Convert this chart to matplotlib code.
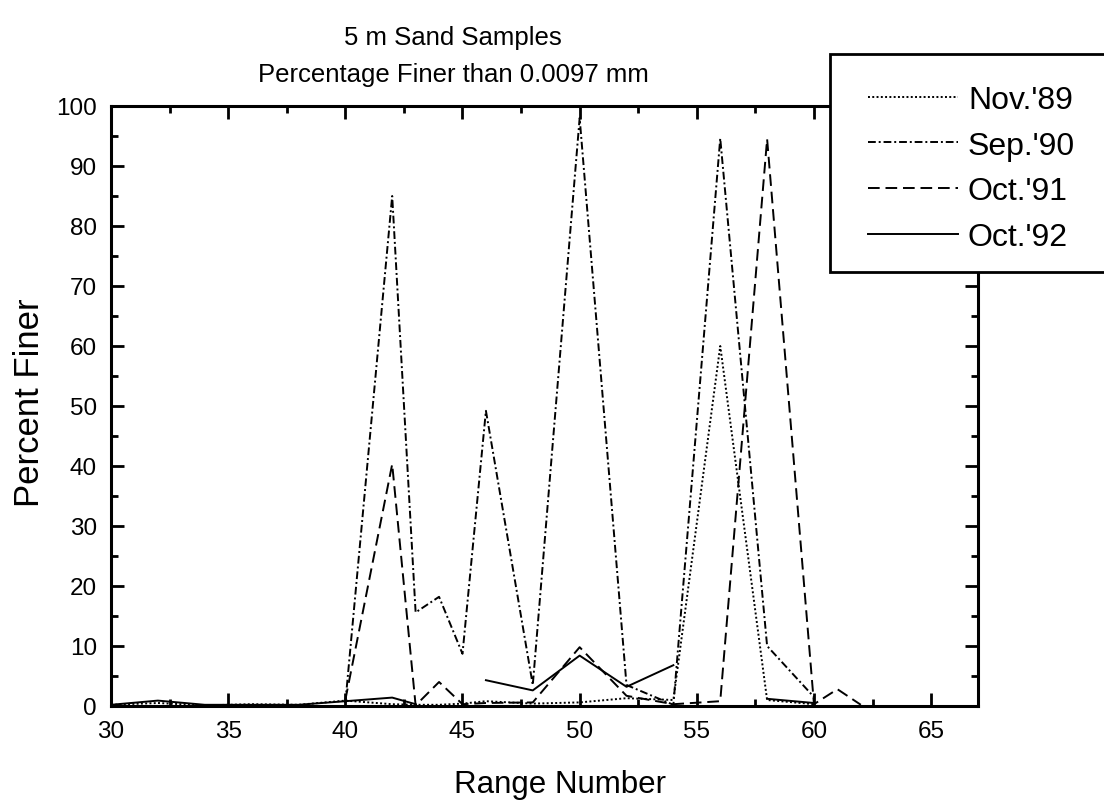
import matplotlib
matplotlib.use('Agg')
import matplotlib.pyplot as plt
from matplotlib.patches import Rectangle
from matplotlib.ticker import MultipleLocator
import numpy as np

plt.rcParams['font.family'] = ['Liberation Sans', 'DejaVu Sans']

nan = np.nan
# range numbers sampled
ranges = [30, 32, 34, 36, 38, 40, 42, 43, 44, 45, 46, 48, 50, 52, 54, 56, 58, 60, 61, 62]

nov89 = [0.2, 0.5, 0.1, 0.3, 0.2, 0.9, 0.3, 0.2, 0.2, 0.4, 0.8, 0.4, 0.6, 1.3, 1.0, 60.0, 1.0, 0.3, nan, nan]
sep90 = [nan, nan, nan, nan, nan, 0.5, 85.0, 15.6, 18.2, 8.7, 49.2, 3.5, 98.0, 3.5, 0.2, 94.6, 10.0, 1.5, nan, nan]
oct91 = [nan, nan, nan, nan, nan, 1.0, 40.3, 0.1, 4.0, 0.3, 0.5, 0.6, 9.8, 1.7, 0.3, 0.8, 94.5, 0.3, 2.8, 0.2]
oct92 = [0.2, 0.9, 0.2, 0.2, 0.2, 0.8, 1.4, 0.3, nan, nan, 4.3, 2.6, 8.4, 3.2, 6.8, nan, 1.2, 0.5, nan, nan]

labels = ["Nov.'89", "Sep.'90", "Oct.'91", "Oct.'92"]
series = [nov89, sep90, oct91, oct92]
styles = [(0, (1, 1.2)), (0, (4, 1.5, 1, 1.5)), (0, (6, 3)), '-']

W, H = 1104, 804
fig = plt.figure(figsize=(W / 100, H / 100), dpi=100)
ax = fig.add_axes([111 / W, 1 - 707 / H, (978 - 111) / W, (707 - 107) / H])

lines = []
for y, lab, ls in zip(series, labels, styles):
    ln, = ax.plot(ranges, y, color='black', linestyle=ls, linewidth=1.4, label=lab)
    lines.append(ln)

ax.set_xlim(30, 67)
ax.set_ylim(0, 100)
ax.xaxis.set_major_locator(MultipleLocator(5))
ax.xaxis.set_minor_locator(MultipleLocator(2.5))
ax.yaxis.set_major_locator(MultipleLocator(10))
ax.yaxis.set_minor_locator(MultipleLocator(5))
ax.tick_params(which='both', direction='in', top=True, right=True, width=2, labelsize=17.5)
ax.tick_params(which='major', length=9.5, pad=10)
ax.tick_params(which='minor', length=5)
for s in ax.spines.values():
    s.set_linewidth(2.2)

fig.text(453 / W, 1 - 38 / H, '5 m Sand Samples', ha='center', va='center', fontsize=18.5)
fig.text(453 / W, 1 - 75 / H, 'Percentage Finer than 0.0097 mm', ha='center', va='center', fontsize=18.5)
fig.text(560 / W, 1 - 785 / H, 'Range Number', ha='center', va='center', fontsize=22.5)
fig.text(30 / W, 1 - 403 / H, 'Percent Finer', ha='center', va='center', rotation=90, fontsize=25)

# legend box (runs off the right edge)
fig.patches.append(Rectangle((830 / W, 1 - 273 / H), (W + 20 - 830) / W, (273 - 55) / H,
                             transform=fig.transFigure, fill=True, facecolor='white',
                             edgecolor='black', linewidth=2, zorder=5))
leg = fig.legend(handles=lines, loc='upper left', bbox_to_anchor=(852 / W, 1 - 70 / H),
                 frameon=False, fontsize=23, handlelength=2.82, handletextpad=0.31,
                 labelspacing=0.49, borderpad=0)
leg.set_zorder(6)

fig.savefig('out.png', dpi=100)
